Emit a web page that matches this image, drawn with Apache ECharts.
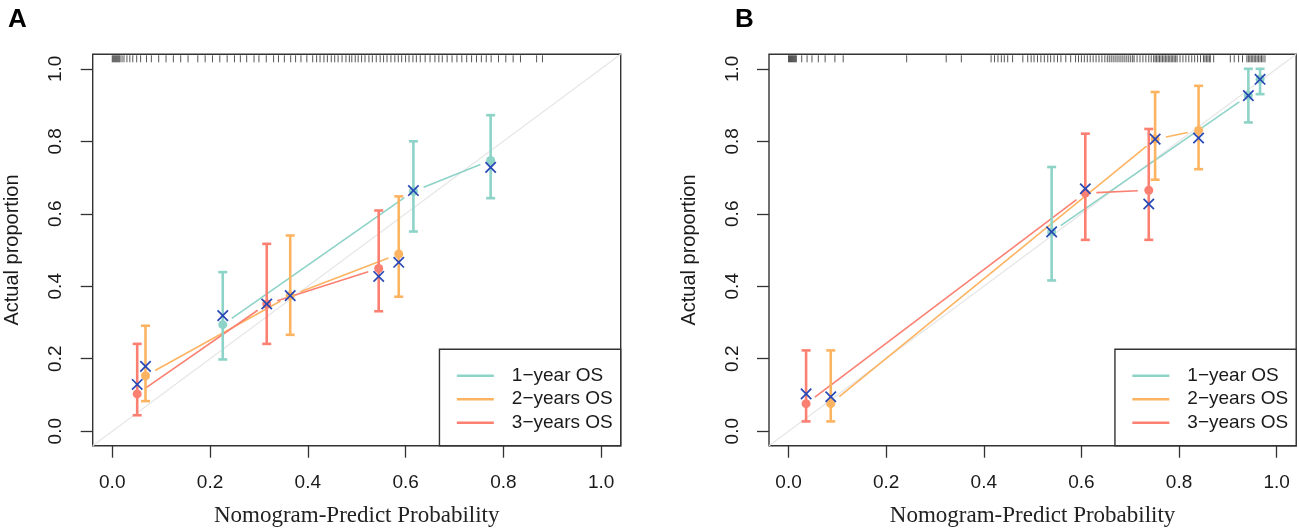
<!DOCTYPE html>
<html>
<head>
<meta charset="utf-8">
<script src="https://cdn.jsdelivr.net/npm/echarts@6/dist/echarts.min.js"></script>
<style>
html,body{margin:0;padding:0;background:#fff;}
#chart{width:1299px;height:528px;}
</style>
</head>
<body>
<div id="chart"></div>
<script>
// ---------- data ----------
const seriesNames = ['1−year OS', '2−years OS', '3−years OS'];
const seriesColors = ['#8DD3C7', '#FDB462', '#FB8072'];
const tickValues = [0, 0.2, 0.4, 0.6, 0.8, 1.0];

// Panel A
const A1_pred = [0.226, 0.616, 0.774];
const A1_obs  = [0.294, 0.662, 0.747];
const A1_corr = [0.319, 0.664, 0.728];
const A1_lo   = [0.198, 0.551, 0.643];
const A1_hi   = [0.439, 0.800, 0.872];

const A2_pred = [0.068, 0.364, 0.586];
const A2_obs  = [0.153, 0.374, 0.489];
const A2_corr = [0.179, 0.374, 0.466];
const A2_lo   = [0.083, 0.266, 0.371];
const A2_hi   = [0.291, 0.540, 0.648];

const A3_pred = [0.051, 0.316, 0.545];
const A3_obs  = [0.103, 0.351, 0.449];
const A3_corr = [0.129, 0.351, 0.427];
const A3_lo   = [0.044, 0.241, 0.331];
const A3_hi   = [0.241, 0.517, 0.609];

// Panel B
const B1_pred = [0.539, 0.942, 0.966];
const B1_obs  = [0.550, 0.926, 0.971];
const B1_corr = [0.550, 0.926, 0.971];
const B1_lo   = [0.416, 0.852, 0.930];
const B1_hi   = [0.729, 1.000, 1.000];

const B2_pred = [0.0865, 0.751, 0.840];
const B2_obs  = [0.076, 0.806, 0.830];
const B2_corr = [0.095, 0.806, 0.809];
const B2_lo   = [0.027, 0.694, 0.723];
const B2_hi   = [0.223, 0.936, 0.953];

const B3_pred = [0.036, 0.608, 0.738];
const B3_obs  = [0.076, 0.657, 0.665];
const B3_corr = [0.103, 0.669, 0.627];
const B3_lo   = [0.027, 0.528, 0.528];
const B3_hi   = [0.223, 0.821, 0.834];

// rug of predicted probabilities (top of each panel)
const rugA = [0.000,0.002,0.004,0.006,0.008,0.010,0.012,0.014,0.016,0.020,0.024,0.030,0.036,0.042,0.050,0.058,0.070,0.080,0.095,0.110,0.125,0.140,0.155,0.175,0.190,0.205,0.220,0.235,0.250,0.262,0.275,0.290,0.300,0.315,0.330,0.340,0.352,0.365,0.375,0.386,0.398,0.410,0.418,0.425,0.433,0.440,0.448,0.455,0.462,0.470,0.478,0.485,0.490,0.497,0.503,0.510,0.517,0.525,0.532,0.540,0.548,0.555,0.562,0.570,0.578,0.585,0.592,0.600,0.607,0.615,0.622,0.630,0.640,0.650,0.660,0.668,0.675,0.685,0.695,0.705,0.715,0.725,0.735,0.745,0.755,0.765,0.775,0.790,0.805,0.820,0.835,0.868,0.880];
const rugB = [0.000,0.002,0.004,0.006,0.008,0.010,0.012,0.014,0.016,0.027,0.038,0.048,0.061,0.075,0.095,0.112,0.242,0.323,0.354,0.415,0.422,0.429,0.436,0.442,0.449,0.459,0.480,0.490,0.497,0.503,0.510,0.517,0.524,0.531,0.537,0.544,0.551,0.558,0.568,0.578,0.588,0.594,0.600,0.606,0.612,0.618,0.624,0.630,0.636,0.642,0.648,0.653,0.657,0.661,0.665,0.669,0.673,0.677,0.681,0.685,0.689,0.693,0.697,0.701,0.705,0.708,0.714,0.720,0.726,0.732,0.738,0.743,0.748,0.751,0.754,0.757,0.760,0.763,0.766,0.769,0.772,0.775,0.778,0.781,0.784,0.787,0.790,0.793,0.796,0.802,0.808,0.814,0.820,0.826,0.832,0.838,0.844,0.850,0.853,0.856,0.859,0.862,0.864,0.871,0.905,0.913,0.922,0.930,0.939,0.942,0.945,0.948,0.951,0.954,0.957,0.960,0.963,0.966,0.969,0.972,0.976];

// ---------- chart ----------
const chart = echarts.init(document.getElementById('chart'), null, {renderer: 'canvas'});
const XCOL = '#2747B5';
const GAP = 11;
const SANS = 'Liberation Sans, Arial, sans-serif';
const SERIF = 'Liberation Serif, Times New Roman, serif';
const TXT = '#1a1a1a';

function xAxisCfg(gi) {
  return {
    gridIndex: gi, type: 'value', min: -0.04, max: 1.04, position: 'bottom',
    axisLine: {show: false, onZero: false}, splitLine: {show: false},
    axisTick: {show: true, inside: false, length: 12, customValues: tickValues, lineStyle: {color: '#333', width: 1.3}},
    axisLabel: {customValues: tickValues, formatter: v => v.toFixed(1), fontSize: 19, color: TXT, fontFamily: SANS, margin: 28},
    name: 'Nomogram-Predict Probability', nameLocation: 'middle', nameGap: 59,
    nameTextStyle: {fontFamily: SERIF, fontSize: 23, color: '#222'}
  };
}
function yAxisCfg(gi) {
  return {
    gridIndex: gi, type: 'value', min: -0.04, max: 1.04, position: 'left',
    axisLine: {show: false, onZero: false}, splitLine: {show: false},
    axisTick: {show: true, inside: false, length: 12, customValues: tickValues, lineStyle: {color: '#333', width: 1.3}},
    axisLabel: {customValues: tickValues, formatter: v => v.toFixed(1), fontSize: 19, color: TXT, fontFamily: SANS, margin: 27, rotate: 90},
    name: 'Actual proportion', nameLocation: 'middle', nameGap: 70, nameRotate: 90,
    nameTextStyle: {fontFamily: SANS, fontSize: 20, color: TXT}
  };
}

function segs(px, py) {
  const out = [];
  for (let i = 0; i < px.length - 1; i++) out.push([px[i], py[i], px[i + 1], py[i + 1]]);
  return out;
}

function panelSeries(gi, groups, rug) {
  const s = [];
  s.push({
    type: 'line', xAxisIndex: gi, yAxisIndex: gi, silent: true, showSymbol: false, z: 1,
    data: [[-0.04, -0.04], [1.04, 1.04]],
    lineStyle: {color: '#e6e6e6', width: 1.2}
  });
  s.push({
    type: 'custom', xAxisIndex: gi, yAxisIndex: gi, silent: true, z: 2,
    data: rug.map(v => [v, 1.04]),
    encode: {x: 0, y: 1},
    renderItem: (params, api) => {
      const p = api.coord([api.value(0), api.value(1)]);
      return {type: 'line', shape: {x1: p[0], y1: p[1] + 1, x2: p[0], y2: p[1] + 8},
        style: {stroke: 'rgba(0,0,0,0.75)', lineWidth: 0.9}};
    }
  });
  groups.forEach((g, k) => {
    const col = seriesColors[k];
    s.push({
      type: 'custom', name: seriesNames[k], xAxisIndex: gi, yAxisIndex: gi, z: 3,
      itemStyle: {color: col},
      data: segs(g.pred, g.obs), encode: {x: [0, 2], y: [1, 3]},
      renderItem: (params, api) => {
        const a = api.coord([api.value(0), api.value(1)]);
        const b = api.coord([api.value(2), api.value(3)]);
        const dx = b[0] - a[0], dy = b[1] - a[1], L = Math.hypot(dx, dy);
        if (L <= 2 * GAP) return null;
        const ux = dx / L, uy = dy / L;
        return {type: 'line', shape: {x1: a[0] + ux * GAP, y1: a[1] + uy * GAP, x2: b[0] - ux * GAP, y2: b[1] - uy * GAP},
          style: {stroke: col, lineWidth: 1.6}};
      }
    });
    s.push({
      type: 'custom', name: seriesNames[k], xAxisIndex: gi, yAxisIndex: gi, z: 4,
      itemStyle: {color: col},
      data: g.pred.map((x, i) => [x, g.lo[i], g.hi[i]]), encode: {x: 0, y: [1, 2]},
      renderItem: (params, api) => {
        const lo = api.coord([api.value(0), api.value(1)]);
        const hi = api.coord([api.value(0), api.value(2)]);
        const st = {stroke: col, lineWidth: 2.6};
        return {type: 'group', children: [
          {type: 'line', shape: {x1: lo[0], y1: lo[1], x2: hi[0], y2: hi[1]}, style: st},
          {type: 'line', shape: {x1: lo[0] - 4.5, y1: lo[1], x2: lo[0] + 4.5, y2: lo[1]}, style: st},
          {type: 'line', shape: {x1: hi[0] - 4.5, y1: hi[1], x2: hi[0] + 4.5, y2: hi[1]}, style: st}
        ]};
      }
    });
  });
  groups.forEach((g, k) => {
    s.push({
      type: 'scatter', name: seriesNames[k], xAxisIndex: gi, yAxisIndex: gi, z: 5,
      symbol: 'circle', symbolSize: 9, itemStyle: {color: seriesColors[k], opacity: 1},
      data: g.pred.map((x, i) => [x, g.obs[i]])
    });
  });
  groups.forEach((g, k) => {
    s.push({
      type: 'custom', name: seriesNames[k], xAxisIndex: gi, yAxisIndex: gi, z: 6,
      itemStyle: {color: seriesColors[k]},
      data: g.pred.map((x, i) => [x, g.corr[i]]), encode: {x: 0, y: 1},
      renderItem: (params, api) => {
        const p = api.coord([api.value(0), api.value(1)]);
        const r = 5.2;
        const st = {stroke: XCOL, lineWidth: 1.7};
        return {type: 'group', children: [
          {type: 'line', shape: {x1: p[0] - r, y1: p[1] - r, x2: p[0] + r, y2: p[1] + r}, style: st},
          {type: 'line', shape: {x1: p[0] - r, y1: p[1] + r, x2: p[0] + r, y2: p[1] - r}, style: st}
        ]};
      }
    });
  });
  return s;
}

const groupsA = [
  {pred: A1_pred, obs: A1_obs, corr: A1_corr, lo: A1_lo, hi: A1_hi},
  {pred: A2_pred, obs: A2_obs, corr: A2_corr, lo: A2_lo, hi: A2_hi},
  {pred: A3_pred, obs: A3_obs, corr: A3_corr, lo: A3_lo, hi: A3_hi}
];
const groupsB = [
  {pred: B1_pred, obs: B1_obs, corr: B1_corr, lo: B1_lo, hi: B1_hi},
  {pred: B2_pred, obs: B2_obs, corr: B2_corr, lo: B2_lo, hi: B2_hi},
  {pred: B3_pred, obs: B3_obs, corr: B3_corr, lo: B3_lo, hi: B3_hi}
];

function legendCfg(right) {
  return {
    orient: 'vertical', right: right, bottom: 82.3,
    padding: [17, 8, 13.5, 17.4], itemGap: 4.5, itemWidth: 37, itemHeight: 2.6,
    borderColor: '#333', borderWidth: 1.4, backgroundColor: '#fff',
    selectedMode: false, z: 20,
    textStyle: {fontFamily: SANS, fontSize: 19, color: TXT, lineHeight: 19, padding: [0, 0, 0, 13]},
    data: seriesNames.map((n, k) => ({name: n, icon: 'rect', itemStyle: {color: seriesColors[k]}}))
  };
}

const option = {
  animation: false,
  backgroundColor: '#fff',
  title: [
    {text: 'A', left: 3, top: 2, textStyle: {fontFamily: SANS, fontSize: 26, fontWeight: 'bold', color: '#000'}},
    {text: 'B', left: 730, top: 2, textStyle: {fontFamily: SANS, fontSize: 26, fontWeight: 'bold', color: '#000'}}
  ],
  grid: [
    {left: 92.7, right: 678.3, top: 54.3, bottom: 82.3, show: true, borderColor: '#333', borderWidth: 1.4, backgroundColor: 'transparent', containLabel: false, outerBoundsMode: 'none'},
    {left: 769, right: 2.8, top: 54.3, bottom: 82.3, show: true, borderColor: '#333', borderWidth: 1.4, backgroundColor: 'transparent', containLabel: false, outerBoundsMode: 'none'}
  ],
  xAxis: [xAxisCfg(0), xAxisCfg(1)],
  yAxis: [yAxisCfg(0), yAxisCfg(1)],
  legend: [legendCfg(678.3), legendCfg(2.8)],
  series: [].concat(panelSeries(0, groupsA, rugA), panelSeries(1, groupsB, rugB))
};
chart.setOption(option);
</script>
</body>
</html>
